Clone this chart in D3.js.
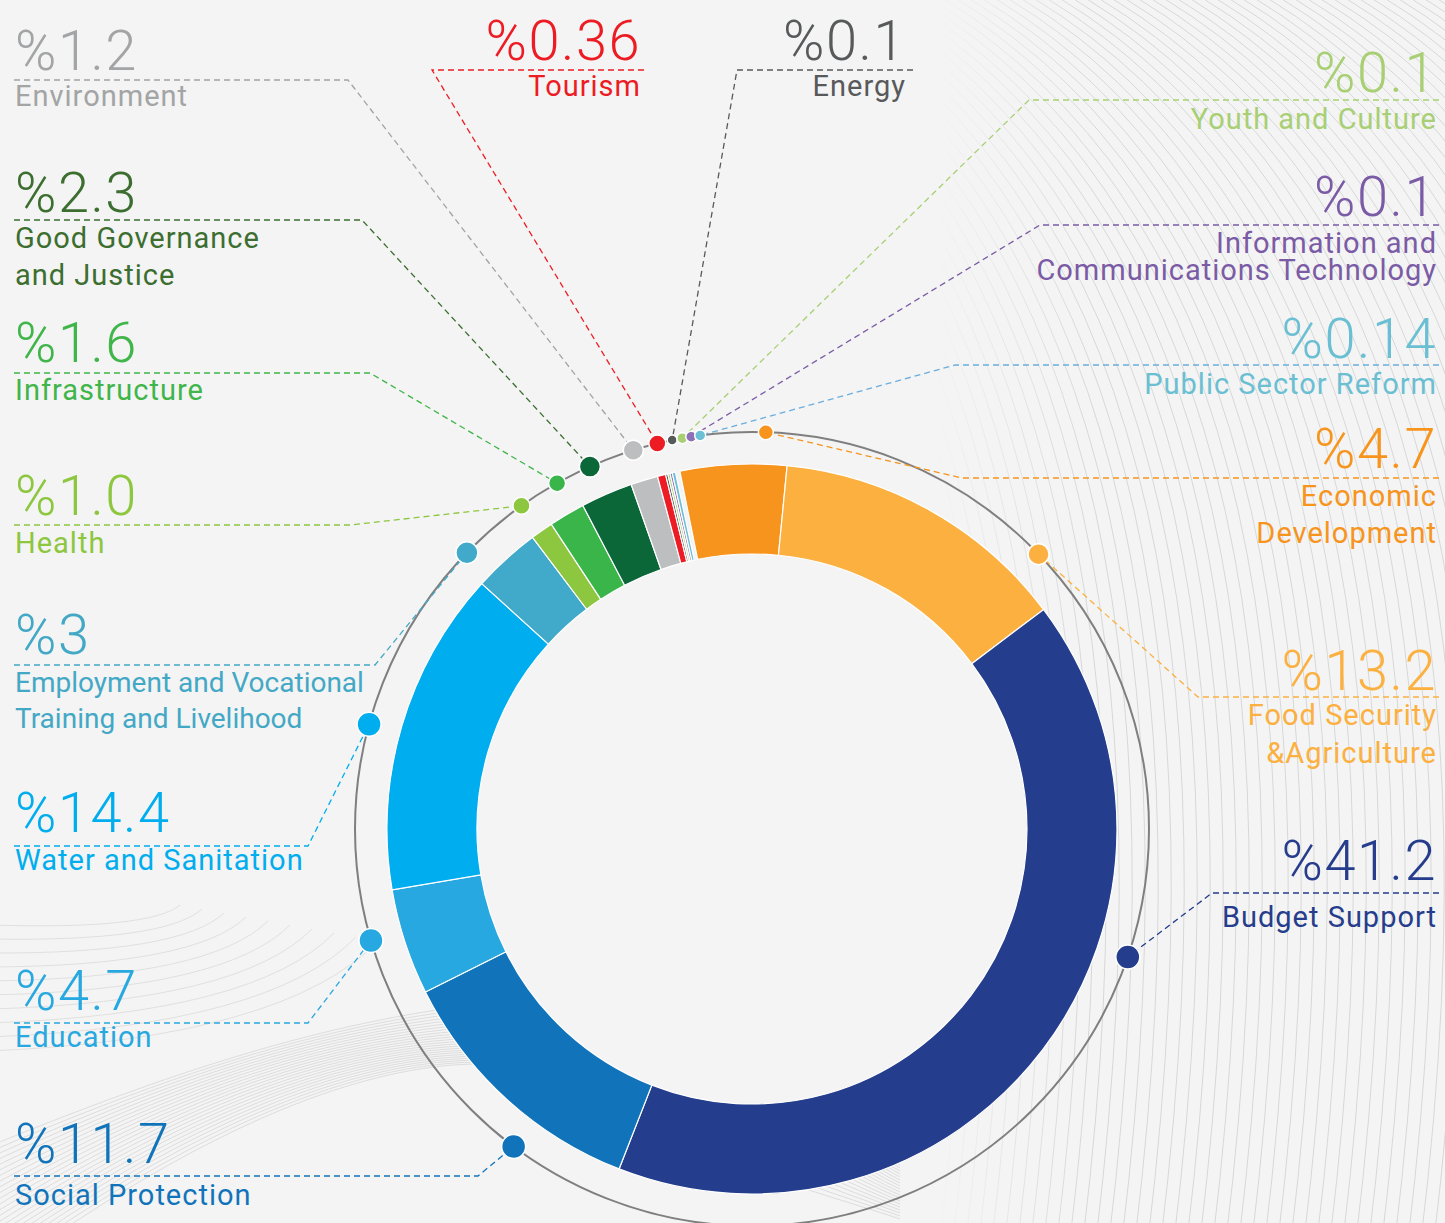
<!DOCTYPE html>
<html>
<head>
<meta charset="utf-8">
<script src="https://cdn.jsdelivr.net/npm/d3@7"></script>
<style>
  html, body { margin: 0; padding: 0; background: #f3f4f3; }
  #chart { width: 1445px; height: 1223px; }
  text { font-family: Roboto, "Open Sans", sans-serif; }
  .value { font-weight: 300; font-size: 56px; letter-spacing: 1.5px; }
  .label { font-weight: 400; font-size: 29px; letter-spacing: 1px; }
  .label.tight { font-size: 28px; letter-spacing: 0px; }
</style>
</head>
<body>
<div id="chart"></div>
<script>
// sectors, clockwise from the top of the ring
const sectors = ["Economic Development", "Food Security &Agriculture", "Budget Support", "Social Protection",
    "Education", "Water and Sanitation", "Employment and Vocational Training and Livelihood", "Health",
    "Infrastructure", "Good Governance and Justice", "Environment", "Tourism", "Energy",
    "Youth and Culture", "Information and Communications Technology", "Public Sector Reform"];
const shares = [4.7, 13.2, 41.2, 11.7, 4.7, 14.4, 3, 1.0, 1.6, 2.3, 1.2, 0.36, 0.1, 0.1, 0.1, 0.14];
const valueLabels = ["%4.7", "%13.2", "%41.2", "%11.7", "%4.7", "%14.4", "%3", "%1.0", "%1.6", "%2.3",
    "%1.2", "%0.36", "%0.1", "%0.1", "%0.1", "%0.14"];
const labelLines = [["Economic", "Development"], ["Food Security", "&Agriculture"], ["Budget Support"],
    ["Social Protection"], ["Education"], ["Water and Sanitation"],
    ["Employment and Vocational", "Training and Livelihood"], ["Health"], ["Infrastructure"],
    ["Good Governance", "and Justice"], ["Environment"], ["Tourism"], ["Energy"], ["Youth and Culture"],
    ["Information and", "Communications Technology"], ["Public Sector Reform"]];
const sliceColors = ["#f7941d", "#fbb040", "#253d8d", "#1174bb", "#27a8e0", "#00adee", "#41a9c9", "#8dc63f",
    "#39b54a", "#0b6638", "#bcbec0", "#ed1c24", "#58595b", "#a8cf74", "#8e70b6", "#6cc0d6"];
const textColors = ["#f7941d", "#fbb040", "#263c8c", "#1174bb", "#27a8e0", "#00adee", "#43a8c6", "#8dc63f",
    "#3fb54a", "#3c6e30", "#a3a4a5", "#ed1c24", "#58595b", "#a8cf74", "#7b5ba6", "#6bbfd3"];

// callout placement (label side, text anchor, baselines, underline, marker angle/size)
const callouts = [
    {side: "right", x: 1437, vy: 468, uy: 478, ux: 962, ly: [506, 543], a: 2.0, r: 7.5},
    {side: "right", x: 1437, vy: 690, uy: 697, ux: 1198, ly: [725, 763], a: 46.2, r: 10.5},
    {side: "right", x: 1437, vy: 880, uy: 893, ux: 1212, ly: [927], a: 108.8, r: 12},
    {side: "left", x: 15, vy: 1163, uy: 1176, ux: 478, ly: [1205], a: 216.9, r: 12},
    {side: "left", x: 15, vy: 1010, uy: 1023, ux: 308, ly: [1047], a: 253.7, r: 12},
    {side: "left", x: 15, vy: 832, uy: 846, ux: 308, ly: [870], a: 285.3, r: 12},
    {side: "left", x: 15, vy: 654, uy: 665, ux: 375, ly: [692, 728], a: -45.9, r: 11, tight: true},
    {side: "left", x: 15, vy: 515, uy: 525, ux: 350, ly: [553], a: -35.5, r: 8.5},
    {side: "left", x: 15, vy: 362, uy: 373, ux: 370, ly: [400], a: -29.4, r: 8.5},
    {side: "left", x: 15, vy: 212, uy: 220, ux: 362, ly: [248, 285], a: -24.1, r: 10.5},
    {side: "left", x: 15, vy: 70, uy: 80, ux: 348, ly: [106], a: -17.4, r: 10},
    {side: "top", x: 641, vy: 60, uy: 70, ux: 432, ux2: 644, ly: [96], a: -13.8, r: 8.5},
    {side: "top", x: 906, vy: 60, uy: 70, ux: 737, ux2: 913, ly: [96], a: -11.6, r: 5},
    {side: "right", x: 1437, vy: 92, uy: 100, ux: 1029, ly: [129], a: -10.1, r: 5.5},
    {side: "right", x: 1437, vy: 216, uy: 225, ux: 1040, ly: [253, 280], a: -8.8, r: 5.5},
    {side: "right", x: 1437, vy: 358, uy: 365, ux: 955, ly: [394], a: -7.5, r: 5.5}
];

const width = 1445, height = 1223;
const cx = 752, cy = 829;
const rInner = 275, rOuter = 365, rRing = 397;
const deg = Math.PI / 180;

const svg = d3.select("#chart").append("svg")
    .attr("width", width)
    .attr("height", height);

svg.append("rect").attr("width", width).attr("height", height).attr("fill", "#f3f4f3");

// background texture
const defs = svg.append("defs");
const fadeR = defs.append("linearGradient").attr("id", "fadeR")
    .attr("gradientUnits", "userSpaceOnUse")
    .attr("x1", 930).attr("y1", 0).attr("x2", 1090).attr("y2", 0);
fadeR.append("stop").attr("offset", 0).attr("stop-color", "#d6d8d7").attr("stop-opacity", 0);
fadeR.append("stop").attr("offset", 1).attr("stop-color", "#d6d8d7").attr("stop-opacity", 1);

const texture = svg.append("g").attr("fill", "none").attr("stroke-width", 1);
const swirl = d3.range(560, 1760, 13);
texture.selectAll("path.swirl")
    .data(swirl)
    .enter()
    .append("path")
    .attr("class", "swirl")
    .attr("stroke", "url(#fadeR)")
    .attr("d", a => `M${a},-20 Q${a + 500},250 ${a + 380},1240`);

const waves = d3.range(0, 24);
texture.selectAll("path.wave")
    .data(waves)
    .enter()
    .append("path")
    .attr("class", "wave")
    .attr("stroke", "#dcdddc")
    .attr("d", i => `M-20,${1150 + i * 6} C${200 + i * 8},${1060 - i * 3} ${420 + i * 6},${985 + i * 3} ${650},${1000 + i * 5} S${820},${1100 + i * 4} ${900},${1150 + i * 3}`);

const arcsLeft = d3.range(0, 10);
texture.selectAll("path.arcl")
    .data(arcsLeft)
    .enter()
    .append("path")
    .attr("class", "arcl")
    .attr("stroke", "#dfe0df")
    .attr("d", i => `M-10,${925 + i * 14} Q${150 + i * 15},${930 + i * 12} ${180 + i * 22},${905 + i * 4}`);

const g = svg.append("g").attr("transform", `translate(${cx},${cy})`);

// plain centre
g.append("circle").attr("r", rInner).attr("fill", "#f3f4f3");

// donut
const total = d3.sum(shares);
const start = -11.4 * deg;
const pie = d3.pie().sort(null).value(d => d)
    .startAngle(start)
    .endAngle(start + 2 * Math.PI * total / 100);
const arc = d3.arc().innerRadius(rInner).outerRadius(rOuter);

g.selectAll("path.slice")
    .data(pie(shares))
    .enter()
    .append("path")
    .attr("class", "slice")
    .attr("d", arc)
    .attr("fill", (d, i) => sliceColors[i])
    .attr("stroke", "#ffffff")
    .attr("stroke-width", 1.2);

// marker position on the outer ring
function markerPos(c) {
    return [cx + rRing * Math.sin(c.a * deg), cy - rRing * Math.cos(c.a * deg)];
}

// leader lines
const leaders = svg.append("g").attr("fill", "none").attr("stroke-width", 1.3).attr("stroke-dasharray", "6,4");
callouts.forEach((c, i) => {
    const [mx, my] = markerPos(c);
    let pts;
    if (c.side === "left") pts = [[14, c.uy], [c.ux, c.uy], [mx, my]];
    else if (c.side === "right") pts = [[1439, c.uy], [c.ux, c.uy], [mx, my]];
    else pts = [[c.ux2, c.uy], [c.ux, c.uy], [mx, my]];
    leaders.append("path")
        .attr("d", d3.line()(pts))
        .attr("stroke", i === 15 ? "#6aaee0" : textColors[i]);
});

// outer ring
g.append("circle")
    .attr("r", rRing)
    .attr("fill", "none")
    .attr("stroke", "#7f7f7f")
    .attr("stroke-width", 2);

// markers
svg.selectAll("circle.marker")
    .data(callouts)
    .enter()
    .append("circle")
    .attr("class", "marker")
    .attr("cx", d => markerPos(d)[0])
    .attr("cy", d => markerPos(d)[1])
    .attr("r", d => d.r)
    .attr("fill", (d, i) => sliceColors[i])
    .attr("stroke", "#ffffff")
    .attr("stroke-width", 1.5);

// labels
const labels = svg.append("g");
callouts.forEach((c, i) => {
    const anchor = c.side === "left" ? "start" : "end";
    labels.append("text")
        .attr("class", "value")
        .attr("x", c.x)
        .attr("y", c.vy)
        .attr("text-anchor", anchor)
        .attr("fill", textColors[i])
        .text(valueLabels[i]);
    labelLines[i].forEach((line, j) => {
        labels.append("text")
            .attr("class", c.tight ? "label tight" : "label")
            .attr("x", c.x)
            .attr("y", c.ly[j])
            .attr("text-anchor", anchor)
            .attr("fill", textColors[i])
            .text(line);
    });
});
</script>
</body>
</html>
